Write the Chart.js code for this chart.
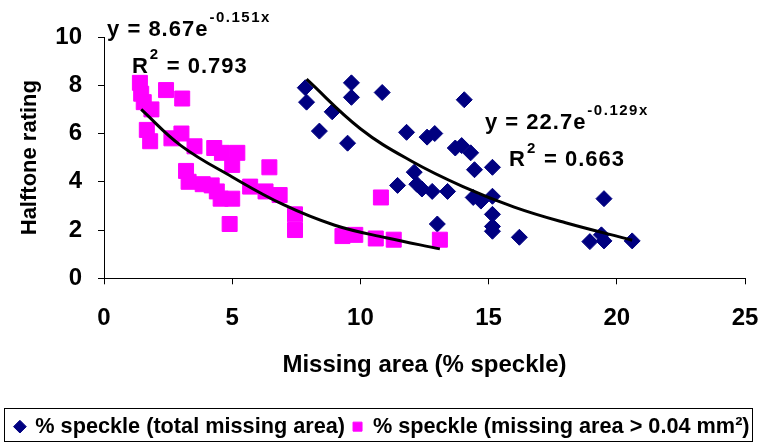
<!DOCTYPE html>
<html>
<head>
<meta charset="utf-8">
<script src="https://cdn.jsdelivr.net/npm/chart.js@4"></script>
<style>
  html, body { margin: 0; padding: 0; background: #fff; overflow: hidden; }
  #wrap { width: 761px; height: 445px; }
</style>
</head>
<body>
<div id="wrap"><canvas id="myChart" width="761" height="445"></canvas></div>
<script>
// values
var totalX = [7.85, 7.9, 8.4, 8.9, 9.5, 9.65, 9.65, 10.85, 11.45, 11.8, 12.1, 12.2, 12.4, 12.6, 12.8, 12.9, 13.0, 13.4, 13.7, 13.95, 14.05, 14.3, 14.4, 14.45, 14.7, 15.15, 15.15, 15.15, 15.15, 15.15, 16.2, 18.95, 19.4, 19.5, 19.5, 20.6];
var totalY = [7.9, 7.3, 6.1, 6.9, 5.6, 8.1, 7.5, 7.7, 3.85, 6.05, 4.4, 3.9, 3.7, 5.85, 3.6, 6.0, 2.25, 3.6, 5.4, 5.5, 7.4, 5.2, 3.35, 4.5, 3.2, 4.6, 3.4, 2.65, 2.15, 1.95, 1.7, 1.52, 1.8, 1.55, 3.3, 1.55];

var largeX = [1.4, 1.45, 1.55, 1.85, 2.42, 3.05, 1.67, 1.8, 2.63, 3.02, 3.53, 4.3, 4.6, 5.2, 5.0, 6.45, 3.2, 3.3, 3.85, 4.2, 4.4, 4.55, 5.0, 4.9, 5.7, 6.3, 6.85, 7.45, 7.45, 9.3, 9.8, 10.6, 11.3, 13.1, 10.8];
var largeY = [8.1, 7.65, 7.3, 7.0, 7.8, 7.45, 6.15, 5.68, 5.8, 6.0, 5.47, 5.4, 5.2, 5.2, 4.7, 4.6, 4.45, 4.0, 3.9, 3.85, 3.6, 3.3, 3.3, 2.25, 3.8, 3.6, 3.45, 2.65, 2.0, 1.75, 1.8, 1.65, 1.6, 1.6, 3.35];

// trend lines, points
var trendTotalX = [7.9, 10, 12, 14, 16, 18, 20.6];
var trendTotalY = [8.25, 6.2, 4.85, 3.8, 2.95, 2.3, 1.58];
var trendLargeX = [1.45, 3, 5, 7, 9, 11, 13.1];
var trendLargeY = [7.0, 5.5, 4.2, 3.05, 2.2, 1.68, 1.22];

var seriesLabels = ["% speckle (total missing area)", "% speckle (missing area > 0.04 mm\u00b2)"];
var xTitle = "Missing area (% speckle)";
var yTitle = "Halftone rating";

// equation labels: [x, y, main text, superscript, rest]
var eqLabels = [
  [0.12, 10.06, "y = 8.67e", "-0.151x", ""],
  [1.09, 8.52, "R", "2", " = 0.793"],
  [14.86, 6.2, "y = 22.7e", "-0.129x", ""],
  [15.8, 4.64, "R", "2", " = 0.663"]
];

function pts(xs, ys) {
  return xs.map((x, i) => ({x: x, y: ys[i]}));
}

const FONT = "'Liberation Sans', Arial, sans-serif";

const eqPlugin = {
  id: 'eqText',
  afterDraw(chart) {
    const ctx = chart.ctx;
    const xs = chart.scales.x, ys = chart.scales.y;
    ctx.save();
    ctx.fillStyle = '#000';
    ctx.textBaseline = 'alphabetic';
    ctx.textAlign = 'left';
    eqLabels.forEach(e => {
      var px = xs.getPixelForValue(e[0]);
      var py = ys.getPixelForValue(e[1]);
      ctx.font = 'bold 22px ' + FONT;
      if ('letterSpacing' in ctx) ctx.letterSpacing = '1px';
      ctx.fillText(e[2], px, py);
      px += ctx.measureText(e[2]).width;
      ctx.font = 'bold 15px ' + FONT;
      if ('letterSpacing' in ctx) ctx.letterSpacing = '1.5px';
      ctx.fillText(e[3], px + 1, py - 13.5);
      px += ctx.measureText(e[3]).width + 1;
      if (e[4]) {
        ctx.font = 'bold 22px ' + FONT;
        if ('letterSpacing' in ctx) ctx.letterSpacing = '1px';
        ctx.fillText(e[4], px, py);
      }
    });
    // box round the legend
    ctx.strokeStyle = '#000';
    ctx.lineWidth = 1;
    ctx.strokeRect(4.5, 408.5, 748, 33);
    ctx.restore();
  }
};

const myChart = new Chart("myChart", {
  type: "scatter",
  data: {
    datasets: [
    {
      label: seriesLabels[0],
      data: pts(totalX, totalY),
      pointStyle: 'rectRot',
      pointRadius: 8,
      borderWidth: 1,
      backgroundColor: "#000080",
      borderColor: "#000080",
      order: 2
    },
    {
      label: seriesLabels[1],
      data: pts(largeX, largeY),
      pointStyle: 'rect',
      pointRadius: 10.6,
      borderWidth: 1,
      backgroundColor: "#FF00FF",
      borderColor: "#FF00FF",
      order: 1
    },
    {
      label: "trend",
      data: pts(trendTotalX, trendTotalY),
      showLine: true,
      pointRadius: 0,
      borderColor: "#000",
      borderWidth: 3,
      tension: 0.4,
      order: 0
    },
    {
      label: "trend",
      data: pts(trendLargeX, trendLargeY),
      showLine: true,
      pointRadius: 0,
      borderColor: "#000",
      borderWidth: 3,
      tension: 0.4,
      order: 0
    }]
  },
  options: {
    animation: false,
    responsive: false,
    events: [],
    layout: { padding: {top: 37, right: 0, bottom: -2.5, left: 4} },
    plugins: {
      tooltip: {enabled: false},
      legend: {
        position: 'bottom',
        labels: {
          usePointStyle: true,
          boxHeight: 9,
          boxWidth: 9,
          padding: 8,
          color: '#000',
          font: {family: FONT, size: 21.7, weight: 'bold'},
          filter: item => item.text !== 'trend',
          sort: (a, b) => a.datasetIndex - b.datasetIndex
        }
      }
    },
    scales: {
      x: {
        type: 'linear',
        min: 0, max: 25,
        ticks: {stepSize: 5, color: '#000', padding: 20, font: {family: FONT, size: 24, weight: 'bold'}},
        grid: {drawOnChartArea: false, tickLength: 6, color: '#000'},
        border: {color: '#000', width: 1},
        title: {display: true, text: xTitle, color: '#000', padding: {top: 0, bottom: 28}, font: {family: FONT, size: 24, weight: 'bold'}},
        afterFit: s => { s.height = 129.5; s.paddingRight = 16; }
      },
      y: {
        min: 0, max: 10,
        ticks: {stepSize: 2, color: '#000', padding: 16, font: {family: FONT, size: 24, weight: 'bold'}},
        grid: {drawOnChartArea: false, tickLength: 6, color: '#000'},
        border: {color: '#000', width: 1},
        title: {display: true, text: yTitle, color: '#000', padding: {top: 13, bottom: 0}, font: {family: FONT, size: 22, weight: 'bold'}},
        afterFit: s => { s.width = 100; }
      }
    }
  },
  plugins: [eqPlugin]
});
</script>
</body>
</html>
